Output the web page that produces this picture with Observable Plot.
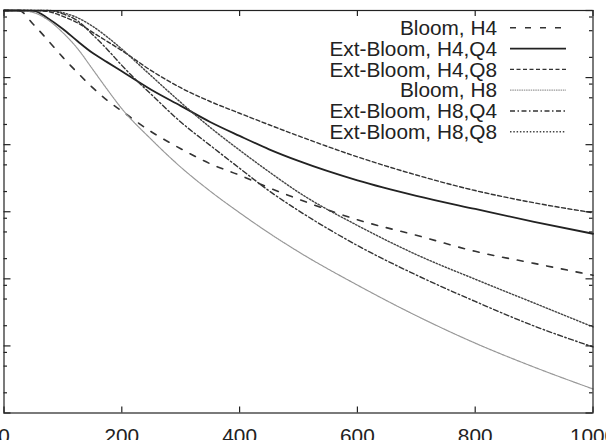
<!DOCTYPE html>
<html>
<head>
<meta charset="utf-8">
<script src="https://cdn.jsdelivr.net/npm/d3@7"></script>
<script src="https://cdn.jsdelivr.net/npm/@observablehq/plot@0.6"></script>
<style>
  html, body { margin: 0; padding: 0; background: #fff; }
  #chart svg { display: block; }
</style>
</head>
<body>
<div id="chart"></div>
<script>
// Number of inserted elements (x) and the matching rate for each filter variant (log y).
const nValues = [0, 25, 50, 75, 100, 125, 150, 175, 200, 250, 300, 350, 400, 450, 500, 600, 700, 800, 900, 1000];

const bloomH4    = [1, 1, 0.618, 0.356, 0.200, 0.118, 0.0714, 0.0458, 0.0318, 0.0156, 0.00871, 0.0052, 0.00351, 0.00228, 0.00154, 0.00076, 0.000446, 0.000257, 0.00017, 0.000113];
const extH4Q4    = [1, 1, 0.99, 0.762, 0.530, 0.348, 0.234, 0.170, 0.124, 0.0658, 0.0379, 0.0218, 0.0135, 0.00853, 0.00573, 0.00294, 0.00173, 0.0011, 0.000706, 0.00047];
const extH4Q8    = [1, 1, 1, 0.964, 0.817, 0.653, 0.476, 0.347, 0.253, 0.127, 0.0706, 0.044, 0.0294, 0.0198, 0.0135, 0.00658, 0.00353, 0.00207, 0.00136, 0.000966];
const bloomH8    = [1, 1, 0.933, 0.721, 0.467, 0.270, 0.135, 0.0671, 0.0344, 0.0120, 0.00463, 0.00203, 0.000966, 0.000481, 0.000253, 8.07e-5, 2.82e-5, 1.10e-5, 4.83e-6, 2.28e-6];
const extH8Q4    = [1, 1, 1, 1, 0.889, 0.700, 0.440, 0.265, 0.152, 0.0561, 0.0218, 0.00977, 0.00445, 0.00205, 0.00104, 0.000314, 0.000114, 4.6e-5, 1.98e-5, 9.66e-6];
const extH8Q8    = [1, 1, 1, 1, 0.927, 0.778, 0.585, 0.405, 0.266, 0.106, 0.0427, 0.0181, 0.00828, 0.00394, 0.00195, 0.000625, 0.00023, 9.86e-5, 4.36e-5, 1.92e-5];

const seriesNames = ["Bloom, H4", "Ext-Bloom, H4,Q4", "Ext-Bloom, H4,Q8", "Bloom, H8", "Ext-Bloom, H8,Q4", "Ext-Bloom, H8,Q8"];
const seriesValues = [bloomH4, extH4Q4, extH4Q8, bloomH8, extH8Q4, extH8Q8];

const xTicks = [0, 200, 400, 600, 800, 1000];
const yMajorTicks = [1e-6, 1e-5, 1e-4, 1e-3, 1e-2, 1e-1, 1];
const yMinorMantissas = [2, 5, 8];

// Line styles, one per series (gnuplot-like monochrome patterns).
const seriesStyles = [
  {stroke: "#333", strokeWidth: 1.6, dash: "6,9"},
  {stroke: "#222", strokeWidth: 1.8, dash: null},
  {stroke: "#333", strokeWidth: 1.4, dash: "4,2.5"},
  {stroke: "#999", strokeWidth: 1.2, dash: "1.5,0.8"},
  {stroke: "#333", strokeWidth: 1.4, dash: "5,2.5,1.5,2.5"},
  {stroke: "#444", strokeWidth: 1.4, dash: "1.5,1.8"}
];

const W = 606, H = 440;
const margin = {left: 3.5, right: 13.5, top: 10, bottom: 27.5};
const innerW = W - margin.left - margin.right;
const innerH = H - margin.top - margin.bottom;
const fontFamily = "'Liberation Sans', Arial, Helvetica, sans-serif";
const ink = "#222";

const yMinorTicks = yMajorTicks.slice(0, -1).flatMap(d => yMinorMantissas.map(m => m * d));

const seriesMarks = seriesNames.map((name, i) => {
  const rows = nValues.map((n, j) => ({n, v: seriesValues[i][j]}));
  const s = seriesStyles[i];
  return Plot.line(rows, {
    x: "n", y: "v", curve: "monotone-x",
    stroke: s.stroke, strokeWidth: s.strokeWidth,
    strokeDasharray: s.dash ?? undefined
  });
});

const chart = Plot.plot({
  width: W, height: H,
  marginLeft: margin.left, marginRight: margin.right,
  marginTop: margin.top, marginBottom: margin.bottom,
  style: {background: "#fff", fontFamily, color: ink},
  x: {type: "linear", domain: [0, 1000]},
  y: {type: "log", domain: [1e-6, 1], axis: null},
  marks: [
    ...seriesMarks,
    Plot.frame({stroke: ink, strokeWidth: 1.2}),
    // inward ticks on all four sides
    Plot.tickX(xTicks, {x: d => d, stroke: ink, strokeWidth: 1.2, insetTop: innerH - 6}),
    Plot.tickX(xTicks, {x: d => d, stroke: ink, strokeWidth: 1.2, insetBottom: innerH - 6}),
    Plot.tickY(yMajorTicks, {y: d => d, stroke: ink, strokeWidth: 1.2, insetRight: innerW - 7}),
    Plot.tickY(yMajorTicks, {y: d => d, stroke: ink, strokeWidth: 1.2, insetLeft: innerW - 7}),
    Plot.tickY(yMinorTicks, {y: d => d, stroke: ink, strokeWidth: 1.2, insetRight: innerW - 3.5}),
    Plot.tickY(yMinorTicks, {y: d => d, stroke: ink, strokeWidth: 1.2, insetLeft: innerW - 3.5}),
    Plot.axisX({ticks: xTicks, anchor: "bottom", tickSize: 0, tickPadding: 15,
                fontSize: 20.8, tickFormat: d3.format("d"), label: null})
  ]
});

// Key in the upper right corner of the plot area
const legend = d3.select(chart).append("g")
  .attr("font-family", fontFamily)
  .attr("font-size", 20.8)
  .attr("fill", ink);
seriesNames.forEach((name, i) => {
  const y = 27.8 + i * 20.8;
  const s = seriesStyles[i];
  legend.append("text")
    .attr("x", 497).attr("y", y).attr("dy", "0.35em")
    .attr("text-anchor", "end")
    .text(name);
  legend.append("line")
    .attr("x1", 510).attr("x2", 566).attr("y1", y).attr("y2", y)
    .attr("stroke", s.stroke).attr("stroke-width", s.strokeWidth)
    .attr("stroke-dasharray", s.dash);
});

document.getElementById("chart").appendChild(chart);
</script>
</body>
</html>
